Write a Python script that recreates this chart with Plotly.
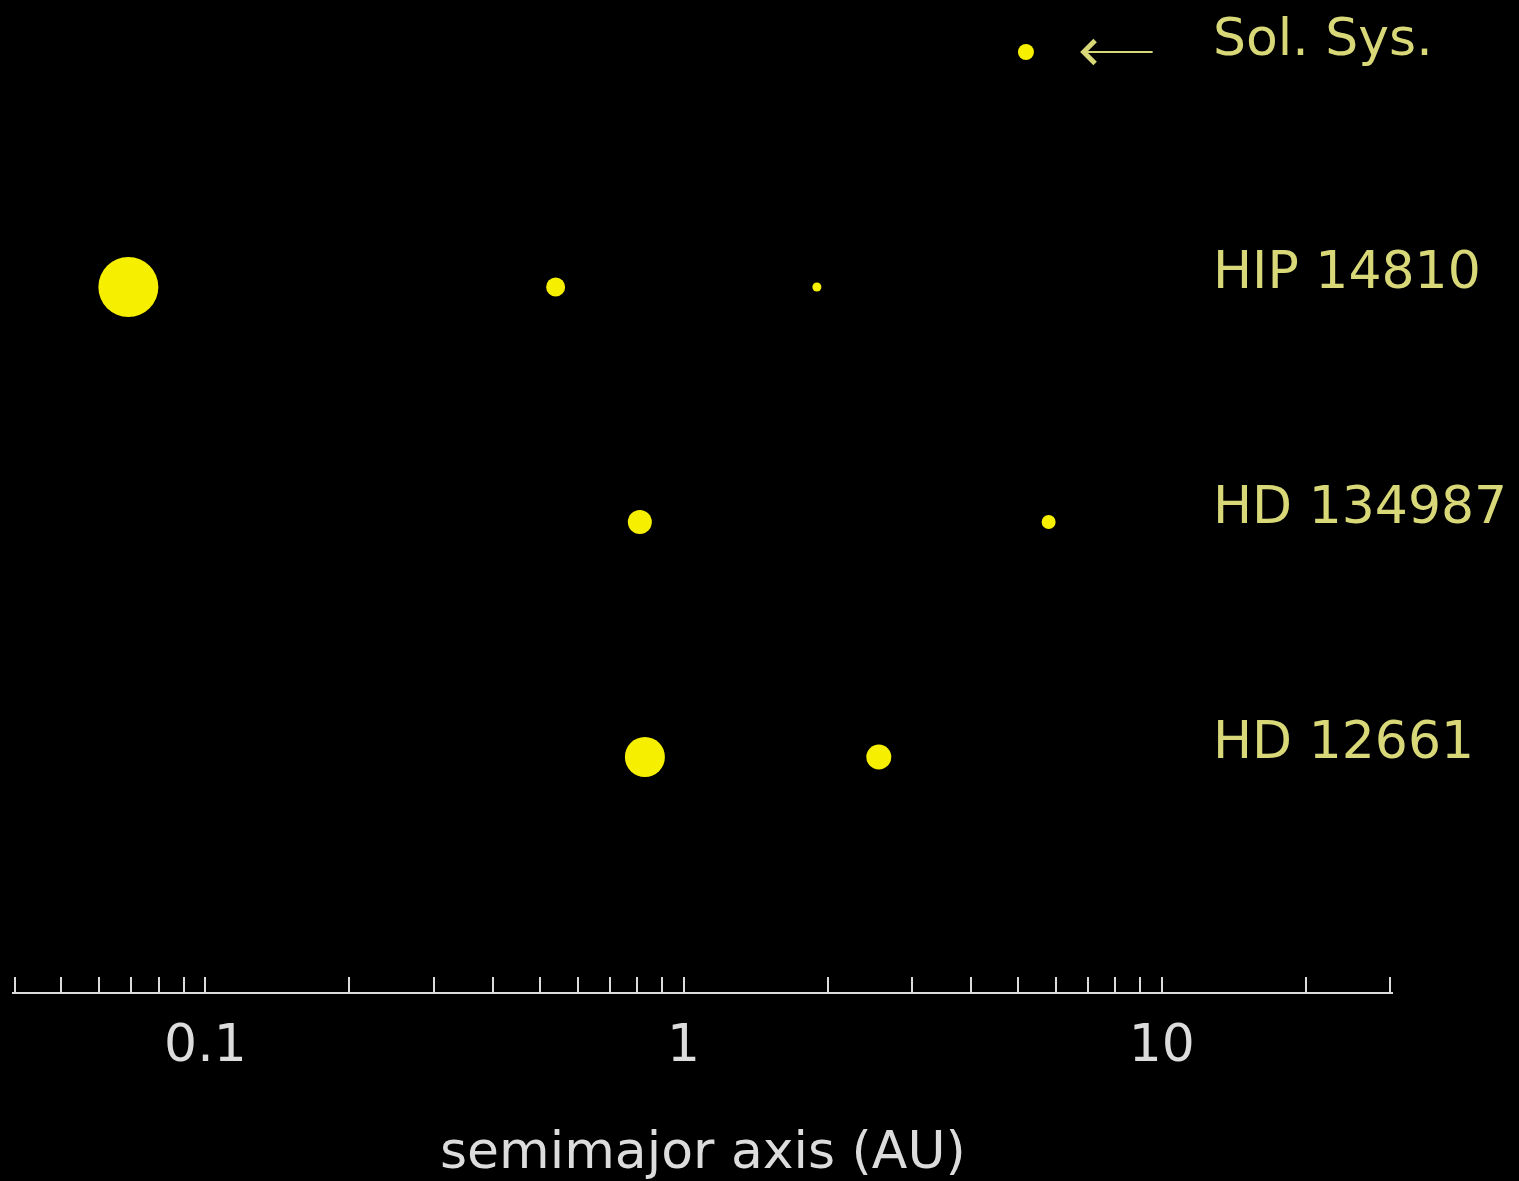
import math
import plotly.graph_objects as go

# Planetary systems, top to bottom
systems = ["Sol. Sys.", "HIP 14810", "HD 134987", "HD 12661"]

# Semimajor axes (AU) of the planets in each system
semimajor = [
    [5.2],                 # Jupiter
    [0.069, 0.54, 1.9],    # HIP 14810 b, c, d
    [0.81, 5.8],           # HD 134987 b, c
    [0.83, 2.56],          # HD 12661 b, c
]

# Symbol diameters (px), scaled with planet mass
symbol_size = [
    [16],
    [60, 19, 9],
    [24, 14],
    [40, 25],
]

# Axis ticks
tick_values = [0.04, 0.05, 0.06, 0.07, 0.08, 0.09,
               0.1, 0.2, 0.3, 0.4, 0.5, 0.6, 0.7, 0.8, 0.9,
               1, 2, 3, 4, 5, 6, 7, 8, 9,
               10, 20, 30]
tick_labels = {0.1: "0.1", 1: "1", 10: "10"}

PLANET = "#f6f000"
LABEL = "#d8d878"
AXIS = "#dcdcdc"
FONT = "DejaVu Sans"

n = len(systems)
fig = go.Figure()
for i, name in enumerate(systems):
    row = n - i
    fig.add_trace(go.Scatter(
        x=semimajor[i],
        y=[row] * len(semimajor[i]),
        mode="markers",
        marker=dict(size=symbol_size[i], color=PLANET, opacity=1,
                    line=dict(width=0)),
        name=name,
        showlegend=False,
        hoverinfo="x+name",
    ))
    fig.add_annotation(
        x=0.868, xref="paper", y=row, yref="y",
        text=name, showarrow=False, xanchor="left", yanchor="middle",
        yshift=17 if i else 15,
        font=dict(family=FONT, size=52, color=LABEL),
    )

# Arrow pointing at the Solar System row
fig.add_annotation(
    x=math.log10(6.75), y=n, xref="x", yref="y",
    ax=74, ay=0, text="", showarrow=True,
    arrowhead=4, arrowsize=2.0, arrowwidth=2.2, arrowcolor=LABEL,
)

fig.add_annotation(
    x=0.5, xref="paper", y=-(1150 - 992) / 992, yref="paper",
    text="semimajor axis (AU)", showarrow=False, yanchor="middle",
    font=dict(family=FONT, size=52, color=AXIS),
)

fig.update_xaxes(
    type="log",
    range=[math.log10(0.0394), math.log10(30.45)],
    showline=True, linecolor=AXIS, linewidth=2,
    ticks="inside", ticklen=15, tickwidth=2, tickcolor=AXIS,
    tickvals=tick_values,
    ticktext=[tick_labels.get(v, "") for v in tick_values],
    tickfont=dict(family=FONT, size=52, color=AXIS),
    ticklabelstandoff=5,
    showgrid=False, zeroline=False,
)
fig.update_yaxes(range=[0, 992 / 235], visible=False, showgrid=False, zeroline=False)

fig.update_layout(
    width=1519, height=1181,
    margin=dict(l=12, r=126, t=0, b=189),
    paper_bgcolor="black", plot_bgcolor="black",
    font=dict(family=FONT, color=AXIS),
)

fig.write_html("out.html")
